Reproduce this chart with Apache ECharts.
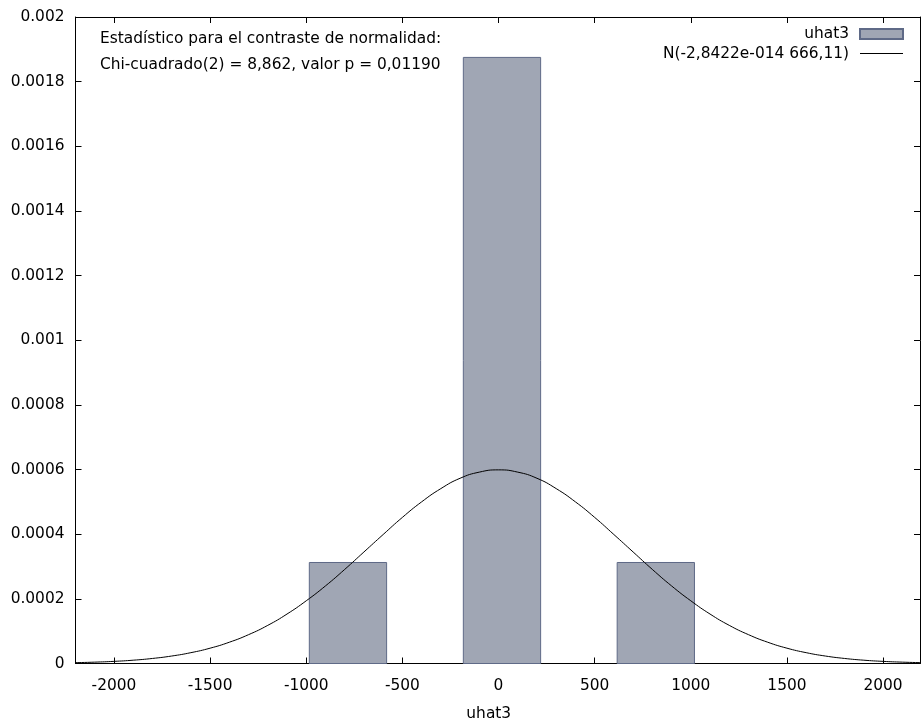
<!DOCTYPE html>
<html><head><meta charset="utf-8">
<script src="https://cdn.jsdelivr.net/npm/echarts@6/dist/echarts.min.js"></script>
<style>html,body{margin:0;padding:0;background:#fff}#c{width:922px;height:724px}</style>
</head><body><div id="c"></div>
<script>
// Histogram bins (left edge, right edge) and densities
const binLeft = [-984, -183, 617];
const binRight = [-582, 219, 1019];
const binDensity = [0.0003125, 0.001875, 0.0003125];
// Normal density curve points
const curveX = [-2200,-2100,-2000,-1900,-1800,-1700,-1600,-1500,-1400,-1300,-1200,-1100,-1000,-900,-800,-700,-600,-500,-400,-300,-200,-100,0,100,200,300,400,500,600,700,800,900,1000,1100,1200,1300,1400,1500,1600,1700,1800,1900,2000,2100,2200];
const curveY = [0.0000026,0.0000042,0.0000066,0.0000102,0.0000156,0.0000231,0.0000335,0.0000474,0.0000658,0.0000892,0.000118,0.000153,0.000194,0.000240,0.000291,0.000345,0.000399,0.000452,0.000500,0.000541,0.000573,0.000592,0.000599,0.000592,0.000573,0.000541,0.000500,0.000452,0.000399,0.000345,0.000291,0.000240,0.000194,0.000153,0.000118,0.0000892,0.0000658,0.0000474,0.0000335,0.0000231,0.0000156,0.0000102,0.0000066,0.0000042,0.0000026];
const xTicks = [-2000,-1500,-1000,-500,0,500,1000,1500,2000];
const yTicks = ['0','0.0002','0.0004','0.0006','0.0008','0.001','0.0012','0.0014','0.0016','0.0018','0.002'];
const seriesNames = ['uhat3', 'N(-2,8422e-014 666,11)'];
const noteLines = ['Estadístico para el contraste de normalidad:', 'Chi-cuadrado(2) = 8,862, valor p = 0,01190'];
const xName = 'uhat3';

const FONT = 'DejaVu Sans';
const FS = 15.4;
const chart = echarts.init(document.getElementById('c'));
const axisLine = {show:true, onZero:false, lineStyle:{color:'#000', width:1}};
const tick = {show:true, inside:true, length:6, lineStyle:{color:'#000'}};
const xTick = Object.assign({}, tick, {customValues:xTicks});
chart.setOption({
  animation:false,
  textStyle:{fontFamily:FONT},
  grid:{left:75.5, right:2, top:17, bottom:60.5, outerBoundsMode:'none', containLabel:false},
  legend:{
    orient:'vertical', right:13, top:21.5, align:'right', itemWidth:43, itemHeight:10, itemGap:4.5,
    textStyle:{fontFamily:FONT, fontSize:FS, lineHeight:15, color:'#000', padding:[0,6,0,0]},
    data:[{name:seriesNames[0], icon:'rect'},
          {name:seriesNames[1], itemStyle:{opacity:0}, lineStyle:{width:1, color:'#000'}}]
  },
  xAxis:[
    {type:'value', min:-2200, max:2192, position:'bottom',
     axisLine:axisLine, axisTick:xTick, splitLine:{show:false},
     axisLabel:{fontFamily:FONT, fontSize:FS, color:'#000', margin:15, customValues:xTicks,
       formatter:function(v){ return String(v); }},
     name:xName, nameLocation:'middle', nameGap:43,
     nameTextStyle:{fontFamily:FONT, fontSize:FS, color:'#000', padding:[0,18,0,0]}},
    {type:'value', min:-2200, max:2192, position:'top',
     axisLine:axisLine, axisTick:xTick, axisLabel:{show:false}, splitLine:{show:false}}
  ],
  yAxis:[
    {type:'value', min:0, max:0.002, interval:0.0002, position:'left',
     axisLine:axisLine, axisTick:tick, splitLine:{show:false},
     axisLabel:{fontFamily:FONT, fontSize:FS, color:'#000', margin:11,
       formatter:function(v){ return yTicks[Math.round(v/0.0002)]; }}},
    {type:'value', min:0, max:0.002, interval:0.0002, position:'right',
     axisLine:axisLine, axisTick:tick, axisLabel:{show:false}, splitLine:{show:false}}
  ],
  series:[
    {name:seriesNames[0], type:'custom', xAxisIndex:0, yAxisIndex:0,
     itemStyle:{color:'#a0a6b4', borderColor:'#5f6a87', borderWidth:1},
     data: binDensity.map((d,i)=>[binLeft[i], binRight[i], d]),
     encode:{x:[0,1], y:2},
     renderItem:function(params, api){
       const p0 = api.coord([api.value(0), api.value(2)]);
       const p1 = api.coord([api.value(1), 0]);
       return {type:'rect', shape:{x:p0[0], y:p0[1], width:p1[0]-p0[0], height:p1[1]-p0[1]},
         style:{fill:'#a0a6b4', stroke:'#5f6a87', lineWidth:1}};
     }, z:2},
    {name:seriesNames[1], type:'line', xAxisIndex:0, yAxisIndex:0, smooth:true, symbol:'none', showSymbol:false,
     lineStyle:{color:'#000', width:1}, itemStyle:{color:'#000'},
     data: curveX.map((x,i)=>[x, curveY[i]]), z:3}
  ],
  graphic:[
    {type:'text', left:100, top:31, style:{text:noteLines[0], font:FS+'px "DejaVu Sans"', fill:'#000'}},
    {type:'text', left:100, top:57, style:{text:noteLines[1], font:FS+'px "DejaVu Sans"', fill:'#000'}}
  ]
});
</script></body></html>
